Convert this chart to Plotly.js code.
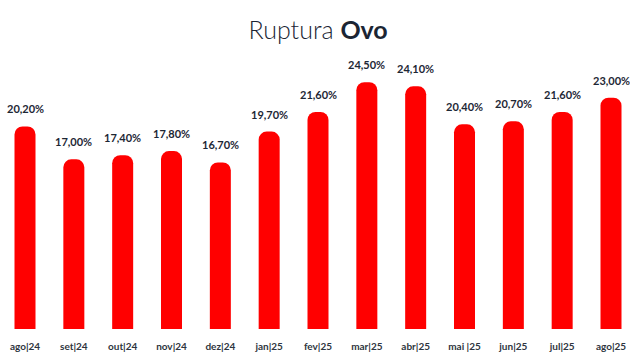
<!DOCTYPE html>
<html>
<head>
<meta charset="utf-8">
<script src="https://cdn.plot.ly/plotly-3.0.1.min.js"></script>
<style>html,body{margin:0;padding:0;background:#fff;}#chart{width:630px;height:361px;}</style>
</head>
<body>
<div id="chart"></div>
<script>
const categories = ["ago|24","set|24","out|24","nov|24","dez|24","jan|25","fev|25","mar|25","abr|25","mai |25","jun|25","jul|25","ago|25"];
const values = [20.2, 17.0, 17.4, 17.8, 16.7, 19.7, 21.6, 24.5, 24.1, 20.4, 20.7, 21.6, 23.0];
const labels = ["20,20%","17,00%","17,40%","17,80%","16,70%","19,70%","21,60%","24,50%","24,10%","20,40%","20,70%","21,60%","23,00%"];

const trace = {
  type: "bar",
  x: categories,
  y: values,
  marker: {color: "#ff0000", cornerradius: 8},
  hoverinfo: "none"
};

const annotations = categories.map((c, i) => ({
  x: c, y: values[i], text: labels[i],
  xref: "x", yref: "y", showarrow: false,
  yanchor: "bottom", yshift: 9,
  font: {family: "Lato, 'Open Sans', sans-serif", size: 11, color: "#1d2735", weight: 700}
}));

const layout = {
  width: 630, height: 361,
  margin: {l: 0, r: 0, t: 60, b: 32},
  paper_bgcolor: "#fff", plot_bgcolor: "#fff",
  showlegend: false,
  bargap: 0.57,
  title: {
    text: "Ruptura <b>Ovo</b>",
    x: 0.505, xanchor: "center",
    y: 0.915, yanchor: "middle",
    font: {family: "Lato, 'Open Sans', sans-serif", size: 25, color: "#1b2533", weight: 300}
  },
  xaxis: {
    type: "category",
    range: [-0.512, 12.389],
    showgrid: false, zeroline: false, showline: false,
    ticks: "", ticklabelstandoff: 10,
    tickfont: {family: "Lato, 'Open Sans', sans-serif", size: 10, color: "#2e3540", weight: 700},
    fixedrange: true
  },
  yaxis: {
    range: [0.5, 26.66],
    visible: false, showgrid: false, zeroline: false,
    fixedrange: true
  },
  annotations: annotations
};

Plotly.newPlot("chart", [trace], layout, {displayModeBar: false, staticPlot: true});
</script>
</body>
</html>
